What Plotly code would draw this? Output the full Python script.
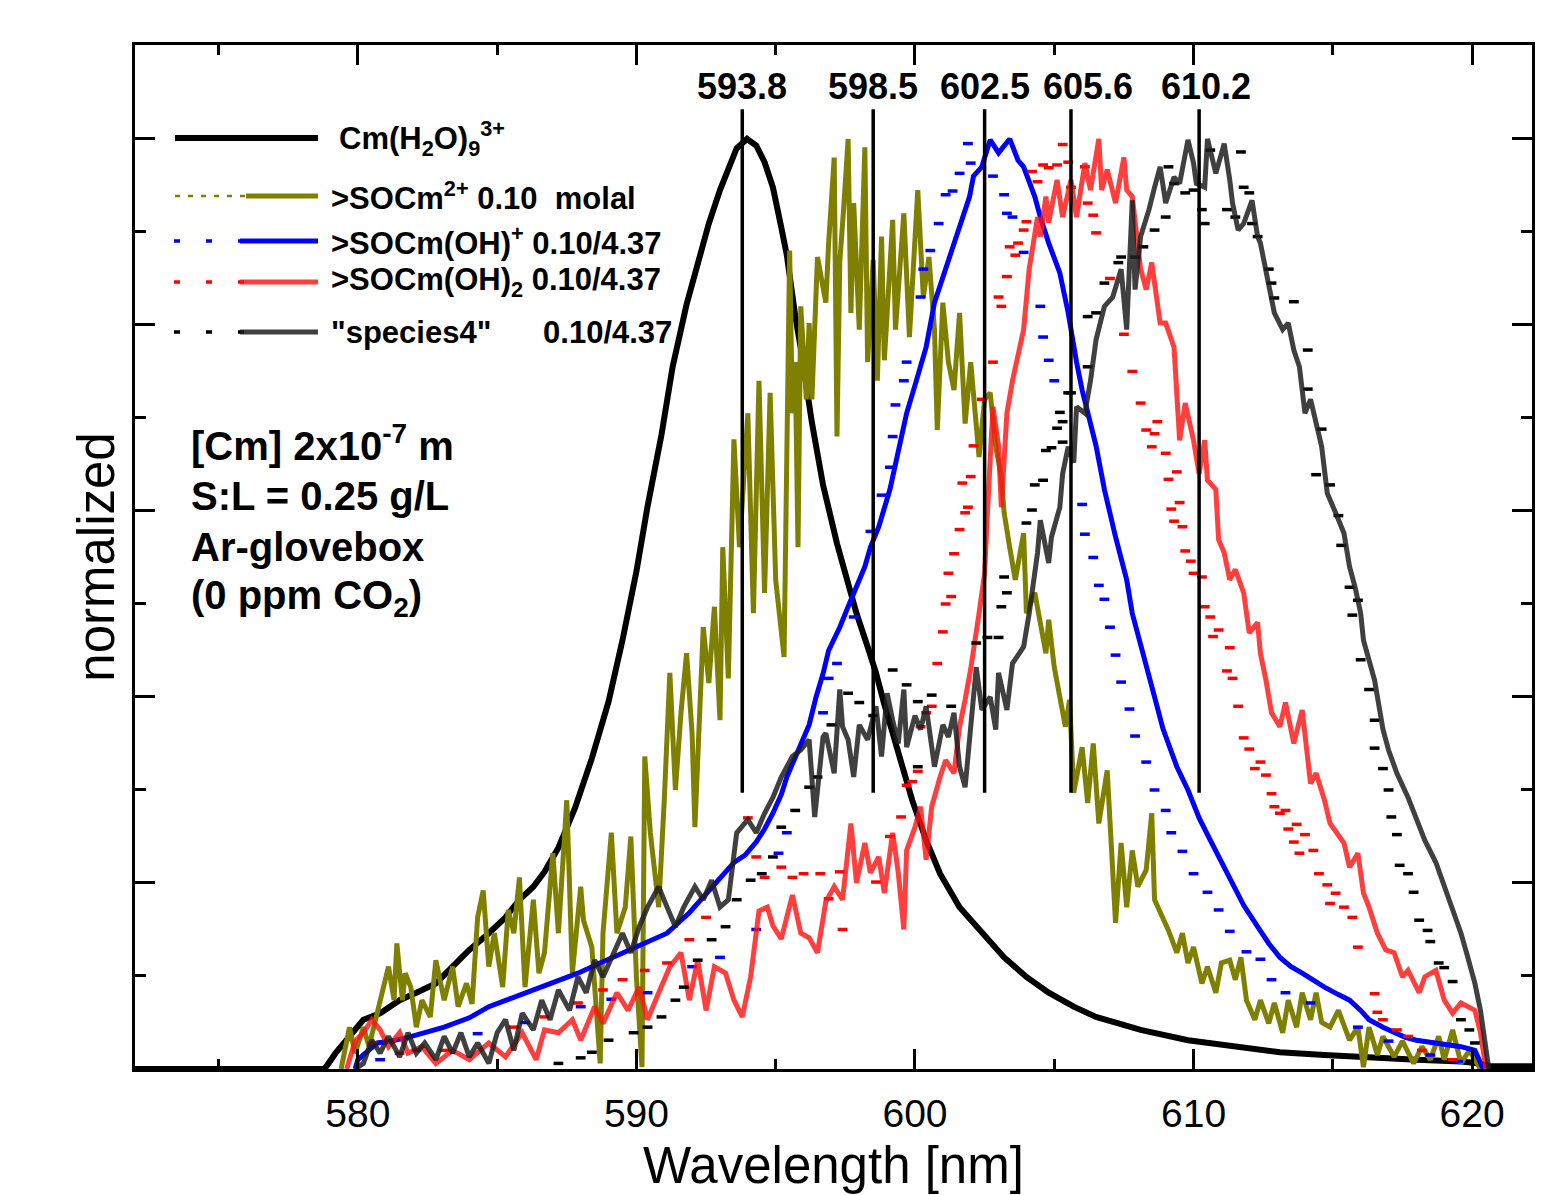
import plotly.graph_objects as go

# ---------------- data ----------------
aquo_wl = [572.0, 578.8, 578.9, 579.2, 579.7, 580.2, 580.8, 581.5, 582.1, 582.8, 583.4, 584.0, 584.7,
           585.3, 585.8, 586.3, 586.7, 587.2, 587.8, 588.4, 589.0, 589.5, 590.0, 590.4, 590.9,
           591.3, 591.8, 592.2, 592.6, 593.0, 593.3, 593.6, 593.97, 594.3, 594.6, 594.9, 595.2,
           595.4, 595.7, 595.9, 596.3, 596.7, 597.2, 597.6, 597.9, 598.3, 598.6, 598.9, 599.4,
           599.9, 600.4, 600.9, 601.6, 602.4, 603.2, 604.0, 604.8, 605.7, 606.5, 607.3, 608.1,
           609.8, 611.4, 613.1, 614.7, 616.3, 618.0, 619.6, 620.3, 620.6, 622.2]
aquo_val = [0.0, 0.0, 0.004, 0.017, 0.035, 0.053, 0.06, 0.074, 0.082, 0.092, 0.11, 0.128, 0.146,
            0.163, 0.182, 0.196, 0.212, 0.238, 0.281, 0.334, 0.395, 0.461, 0.535, 0.605, 0.682,
            0.755, 0.822, 0.865, 0.909, 0.945, 0.969, 0.99, 1.0, 0.993, 0.975, 0.948, 0.905,
            0.875, 0.81, 0.775, 0.695, 0.628, 0.565, 0.522, 0.49, 0.454, 0.426, 0.392, 0.343,
            0.289, 0.246, 0.21, 0.174, 0.146, 0.12, 0.099, 0.082, 0.067, 0.056, 0.049, 0.042,
            0.031, 0.024, 0.018, 0.015, 0.012, 0.01, 0.008, 0.006, 0.003, 0.003]

olive_wl = [579.4, 579.7, 579.9, 580.2, 580.4, 580.7, 581.1, 581.3, 581.4, 581.6, 581.7, 581.9, 582.1,
            582.3, 582.6, 582.8, 583.1, 583.4, 583.6, 583.9, 584.1, 584.3, 584.5, 584.7, 584.9,
            585.2, 585.4, 585.6, 585.8, 586.0, 586.3, 586.5, 586.7, 587.0, 587.2, 587.5, 587.7,
            588.0, 588.1, 588.4, 588.7, 588.8, 589.1, 589.3, 589.6, 589.8, 590.0, 590.2, 590.3,
            590.5, 590.8, 591.0, 591.2, 591.4, 591.6, 591.8, 592.0, 592.1, 592.4, 592.6, 592.8,
            593.0, 593.1, 593.3, 593.5, 593.7, 594.0, 594.2, 594.4, 594.6, 594.8, 595.0, 595.3,
            595.5, 595.6, 595.7, 595.8, 595.9, 596.1, 596.2, 596.3, 596.5, 596.8, 596.9, 597.1,
            597.2, 597.3, 597.45, 597.6, 597.7, 597.8, 598.0, 598.2, 598.3, 598.5, 598.65, 598.8,
            598.9, 599.2, 599.3, 599.6, 599.8, 600.1, 600.3, 600.5, 600.7, 600.8, 601.0, 601.2,
            601.4, 601.6, 601.8, 602.0, 602.3, 602.5, 602.7, 602.9, 603.1, 603.2, 603.4, 603.6,
            603.9, 604.0, 604.3, 604.5, 604.7, 604.8, 605.0, 605.2, 605.4, 605.55, 605.7, 606.0,
            606.2, 606.4, 606.6, 606.9, 607.2, 607.4, 607.6, 607.8, 608.0, 608.3, 608.5, 608.6,
            608.9, 609.1, 609.4, 609.6, 609.8, 610.0, 610.3, 610.5, 610.8, 611.0, 611.3, 611.5,
            611.7, 611.9, 612.2, 612.4, 612.7, 612.9, 613.2, 613.4, 613.7, 613.9, 614.2, 614.4,
            614.6, 614.9, 615.2, 615.6, 615.9, 616.1, 616.3, 616.6, 616.8, 617.2, 617.5, 617.9,
            618.2, 618.5, 618.8, 619.0, 619.3, 619.6, 619.9, 620.3]
olive_val = [0.0, 0.045, 0.017, 0.045, 0.024, 0.06, 0.11, 0.074, 0.135, 0.074, 0.103, 0.088, 0.045,
             0.074, 0.056, 0.117, 0.074, 0.11, 0.067, 0.092, 0.07, 0.163, 0.192, 0.11, 0.146,
             0.088, 0.171, 0.146, 0.206, 0.088, 0.182, 0.103, 0.125, 0.232, 0.146, 0.289, 0.103,
             0.196, 0.16, 0.131, 0.006, 0.146, 0.254, 0.146, 0.174, 0.25, 0.099, 0.002, 0.336,
             0.254, 0.174, 0.289, 0.426, 0.30, 0.383, 0.447, 0.36, 0.26, 0.475, 0.415, 0.497,
             0.375, 0.561, 0.42, 0.677, 0.561, 0.705, 0.49, 0.74, 0.512, 0.727, 0.526, 0.443,
             0.88, 0.705, 0.76, 0.561, 0.82, 0.72, 0.802, 0.72, 0.873, 0.824, 0.888, 0.98,
             0.68, 0.867, 0.93, 1.0, 0.813, 0.931, 0.795, 0.991, 0.76, 0.87, 0.74, 0.895,
             0.762, 0.913, 0.795, 0.92, 0.787, 0.945, 0.83, 0.873, 0.795, 0.687, 0.824, 0.76,
             0.73, 0.813, 0.694, 0.76, 0.658, 0.72, 0.727, 0.669, 0.637, 0.598, 0.561, 0.526,
             0.576, 0.49, 0.512, 0.48, 0.447, 0.483, 0.432, 0.4, 0.368, 0.397, 0.297, 0.346,
             0.286, 0.35, 0.264, 0.321, 0.157, 0.243, 0.174, 0.235, 0.196, 0.214, 0.275, 0.182,
             0.163, 0.149, 0.125, 0.146, 0.114, 0.131, 0.092, 0.11, 0.082, 0.114, 0.117, 0.096,
             0.12, 0.074, 0.053, 0.074, 0.049, 0.071, 0.039, 0.074, 0.045, 0.082, 0.053, 0.082,
             0.05, 0.045, 0.063, 0.031, 0.045, 0.002, 0.045, 0.015, 0.035, 0.013, 0.03, 0.006,
             0.024, 0.01, 0.035, 0.01, 0.042, 0.006, 0.02, 0.0]

blue_wl = [579.9, 580.0, 580.7, 581.2, 581.8, 582.5, 583.1, 584.0, 584.7, 585.5, 586.3, 587.1, 587.9,
           588.7, 589.5, 590.3, 591.1, 591.9, 592.7, 593.1, 593.5, 593.9, 594.3, 594.6, 594.9,
           595.2, 595.4, 595.7, 595.9, 596.2, 596.45, 596.7, 596.9, 597.3, 597.6, 597.9, 598.2,
           598.4, 598.7, 599.1, 599.3, 599.7, 600.0, 600.4, 600.7, 601.1, 601.6, 601.96, 602.1,
           602.4, 602.7, 603.0, 603.4, 603.7, 603.9, 604.3, 604.5, 604.8, 605.2, 605.5, 605.8,
           606.0, 606.5, 606.8, 607.2, 607.6, 607.8, 608.2, 608.6, 608.9, 609.4, 609.8, 610.2,
           610.6, 611.0, 611.4, 611.8, 612.3, 612.7, 613.1, 613.5, 613.9, 614.3, 614.7, 615.2,
           615.6, 616.0, 616.3, 616.8, 617.2, 617.6, 618.0, 618.4, 618.8, 619.2, 619.6, 620.1,
           620.3, 620.4]
blue_val = [0.0, 0.01, 0.028, 0.03, 0.034, 0.04, 0.045, 0.055, 0.067, 0.076, 0.085, 0.094, 0.103,
            0.114, 0.125, 0.135, 0.146, 0.168, 0.196, 0.21, 0.222, 0.23, 0.244, 0.258, 0.275,
            0.295, 0.314, 0.335, 0.35, 0.37, 0.4, 0.425, 0.45, 0.475, 0.497, 0.518, 0.54,
            0.561, 0.583, 0.623, 0.652, 0.705, 0.735, 0.776, 0.824, 0.86, 0.902, 0.938, 0.96,
            0.97, 0.999, 0.985, 1.0, 0.977, 0.97, 0.938, 0.916, 0.888, 0.856, 0.813, 0.76,
            0.73, 0.67, 0.623, 0.572, 0.526, 0.49, 0.447, 0.4, 0.366, 0.325, 0.3, 0.27,
            0.246, 0.222, 0.2, 0.176, 0.153, 0.135, 0.12, 0.11, 0.103, 0.095, 0.088, 0.08,
            0.074, 0.063, 0.053, 0.045, 0.039, 0.034, 0.031, 0.029, 0.028, 0.026, 0.024, 0.02,
            0.008, 0.0]

blue_dot_wl = [580.8, 582.1, 584.3, 586.0, 588.0, 589.1, 590.4, 592.0, 593.0, 594.3, 595.1, 595.4,
               596.7, 596.9, 597.2, 597.8, 598.4, 598.8, 599.1, 599.2, 599.3, 599.6, 599.7, 600.2,
               600.3, 600.55, 600.85, 601.1, 601.35, 601.6, 601.9, 602.0, 602.8, 603.2, 603.3,
               603.5, 603.9, 604.5, 604.6, 604.8, 605.0, 606.0, 606.1, 606.4, 606.6, 606.8, 607.0,
               607.2, 607.4, 607.7, 607.9, 608.3, 608.6, 609.0, 609.2, 609.6, 610.0, 610.5, 610.9,
               611.3, 611.9, 612.4, 612.8, 613.3, 614.2, 615.9, 617.0, 618.5, 619.5]
blue_dot_val = [0.01, 0.02, 0.038, 0.05, 0.067, 0.075, 0.082, 0.11, 0.12, 0.15, 0.232, 0.254,
                0.383, 0.42, 0.436, 0.486, 0.578, 0.617, 0.647, 0.68, 0.714, 0.74, 0.76, 0.83,
                0.86, 0.88, 0.909, 0.94, 0.944, 0.963, 0.995, 0.974, 0.96, 0.94, 0.92,
                0.916, 0.878, 0.82, 0.787, 0.762, 0.74, 0.607, 0.575, 0.55, 0.52, 0.505, 0.475,
                0.445, 0.416, 0.387, 0.358, 0.33, 0.3, 0.278, 0.254, 0.234, 0.21, 0.19, 0.171,
                0.148, 0.126, 0.118, 0.096, 0.082, 0.071, 0.045, 0.03, 0.015, 0.008]

red_wl = [579.6, 579.9, 580.2, 580.5, 580.8, 581.1, 581.5, 581.8, 582.3, 582.8, 583.4, 584.0, 584.7,
          585.3, 585.9, 586.4, 586.7, 587.2, 587.7, 588.0, 588.5, 588.8, 589.3, 589.7, 590.1,
          590.4, 590.8, 591.2, 591.6, 591.9, 592.2, 592.5, 592.8, 593.2, 593.5, 593.8, 594.1,
          594.4, 594.7, 594.9, 595.2, 595.6, 595.9, 596.2, 596.5, 596.8, 597.1, 597.4, 597.7,
          597.9, 598.2, 598.4, 598.7, 598.9, 599.2, 599.4, 599.6, 599.7, 600.0, 600.2, 600.4,
          600.6, 600.9, 601.1, 601.4, 601.6, 601.8, 602.0, 602.3, 602.5, 602.6, 602.8, 603.0,
          603.1, 603.3, 603.5, 603.9, 604.1, 604.4, 604.5, 604.7, 604.8, 605.1, 605.3, 605.6,
          605.8, 606.1, 606.3, 606.6, 606.7, 606.9, 607.2, 607.5, 607.6, 607.8, 608.0, 608.1,
          608.3, 608.5, 608.8, 609.0, 609.3, 609.4, 609.5, 609.7, 610.0, 610.2, 610.4, 610.5,
          610.8, 610.9, 611.1, 611.3, 611.5, 611.8, 612.0, 612.3, 612.4, 612.6, 612.8, 613.1,
          613.3, 613.6, 613.9, 614.2, 614.4, 614.7, 614.9, 615.4, 615.6, 615.9, 616.1, 616.3,
          616.6, 616.9, 617.2, 617.5, 617.7, 618.1, 618.3, 618.7, 619.0, 619.3, 619.6, 620.1,
          620.3, 620.5]
red_val = [0.0, 0.03, 0.039, 0.053, 0.042, 0.024, 0.039, 0.017, 0.024, 0.006, 0.02, 0.01, 0.028,
           0.013, 0.039, 0.01, 0.042, 0.039, 0.053, 0.031, 0.067, 0.049, 0.082, 0.063, 0.088,
           0.053, 0.082, 0.11, 0.125, 0.074, 0.117, 0.063, 0.11, 0.103, 0.074, 0.056, 0.099,
           0.17, 0.174, 0.154, 0.14, 0.187, 0.146, 0.141, 0.125, 0.18, 0.196, 0.182, 0.264,
           0.2, 0.243, 0.211, 0.228, 0.189, 0.254, 0.211, 0.15, 0.235, 0.26, 0.282, 0.225,
           0.282, 0.314, 0.332, 0.318, 0.368, 0.397, 0.43, 0.49, 0.533, 0.598, 0.712, 0.67,
           0.604, 0.705, 0.74, 0.795, 0.86, 0.916, 0.895, 0.938, 0.91, 0.956, 0.916, 0.956,
           0.916, 0.974, 0.945, 1.0, 0.945, 0.967, 0.931, 0.98, 0.945, 0.938, 0.88, 0.86,
           0.838, 0.867, 0.802, 0.802, 0.776, 0.72, 0.676, 0.716, 0.676, 0.64, 0.676, 0.633,
           0.623, 0.569, 0.555, 0.526, 0.537, 0.512, 0.469, 0.48, 0.447, 0.418, 0.383, 0.368,
           0.394, 0.35, 0.386, 0.307, 0.318, 0.289, 0.264, 0.243, 0.217, 0.232, 0.189, 0.174,
           0.146, 0.128, 0.125, 0.099, 0.106, 0.082, 0.099, 0.106, 0.074, 0.06, 0.071, 0.063,
           0.039, 0.0]

red_dot_wl = [580.5, 581.5, 583.1, 585.6, 586.7, 587.9, 588.8, 589.5, 590.3, 591.1, 591.9, 592.5,
              594.0, 594.3, 594.6, 595.2, 595.6, 596.0, 596.6, 596.9, 597.3, 597.4, 598.6, 599.1,
              599.5, 599.7, 599.9, 600.1, 600.2, 600.4, 600.6, 600.8, 601.0, 601.1, 601.2, 601.3,
              601.4, 601.6, 601.7, 601.8, 601.9, 602.0, 602.1, 602.4, 602.8, 603.0, 603.1, 603.3,
              603.4, 603.6, 603.7, 603.9, 604.0, 604.2, 604.4, 604.6, 604.8, 605.1, 605.3, 605.5,
              605.6, 606.1, 606.2, 606.4, 606.5, 607.0, 607.5, 607.8, 608.1, 608.3, 608.5, 608.6,
              608.7, 609.0, 609.1, 609.2, 609.3, 609.4, 609.5, 609.6, 609.7, 609.9, 610.0, 610.3,
              610.4, 610.6, 610.7, 610.9, 611.2, 611.3, 611.4, 611.6, 611.8, 612.0, 612.2, 612.4,
              612.6, 612.8, 612.9, 613.1, 613.3, 613.4, 613.6, 613.7, 613.8, 614.0, 614.3, 614.5,
              614.8, 614.9, 615.1, 615.4, 615.7, 615.9, 616.5, 616.6, 616.8, 617.3, 617.7, 618.2,
              619.3]
red_dot_val = [0.028, 0.017, 0.02, 0.045, 0.056, 0.071, 0.085, 0.096, 0.106, 0.114, 0.139, 0.163,
               0.27, 0.228, 0.206, 0.217, 0.206, 0.21, 0.21, 0.183, 0.212, 0.15, 0.201, 0.25,
               0.271, 0.305, 0.309, 0.32, 0.368, 0.383, 0.39, 0.436, 0.47, 0.5, 0.533, 0.508,
               0.554, 0.58, 0.63, 0.598, 0.604, 0.637, 0.67, 0.72, 0.76, 0.83, 0.82, 0.852,
               0.884, 0.875, 0.888, 0.902, 0.911, 0.965, 0.954, 0.972, 0.969, 0.972, 0.994, 0.975,
               0.948, 0.97, 0.931, 0.918, 0.899, 0.85, 0.79, 0.75, 0.716, 0.687, 0.669, 0.683,
               0.696, 0.662, 0.634, 0.602, 0.589, 0.642, 0.609, 0.583, 0.557, 0.546, 0.533, 0.529,
               0.497, 0.486, 0.465, 0.472, 0.428, 0.453, 0.42, 0.39, 0.356, 0.344, 0.323, 0.33,
               0.316, 0.296, 0.282, 0.275, 0.278, 0.258, 0.244, 0.263, 0.232, 0.252, 0.235, 0.21,
               0.198, 0.178, 0.189, 0.174, 0.163, 0.131, 0.081, 0.061, 0.053, 0.042, 0.035, 0.02,
               0.01]

grey_wl = [579.9, 580.2, 580.5, 580.8, 581.1, 581.5, 581.8, 582.1, 582.4, 582.8, 583.1, 583.4, 583.7,
           584.0, 584.3, 584.7, 585.0, 585.3, 585.6, 585.9, 586.3, 586.6, 586.9, 587.2, 587.6,
           587.9, 588.2, 588.5, 588.8, 589.1, 589.5, 589.8, 590.1, 590.4, 590.8, 591.1, 591.4,
           591.7, 592.1, 592.4, 592.7, 593.0, 593.3, 593.6, 594.0, 594.3, 594.6, 594.9, 595.2,
           595.6, 595.9, 596.2, 596.4, 596.7, 596.8, 597.1, 597.3, 597.4, 597.6, 597.8, 598.0,
           598.3, 598.6, 598.8, 599.0, 599.2, 599.4, 599.6, 599.7, 600.0, 600.2, 600.4, 600.7,
           601.0, 601.2, 601.4, 601.6, 601.8, 602.0, 602.2, 602.4, 602.7, 602.9, 603.0, 603.3,
           603.5, 603.9, 604.1, 604.4, 604.5, 604.8, 604.9, 605.2, 605.3, 605.5, 605.7, 605.8,
           606.1, 606.3, 606.5, 606.8, 607.1, 607.4, 607.6, 607.8, 607.9, 608.1, 608.4, 608.6,
           608.8, 609.0, 609.3, 609.5, 609.8, 610.0, 610.1, 610.4, 610.5, 610.8, 611.1, 611.3,
           611.4, 611.6, 611.8, 612.1, 612.3, 612.4, 612.7, 612.9, 613.2, 613.4, 613.6, 613.8,
           614.0, 614.2, 614.6, 614.8, 615.1, 615.4, 615.6, 615.8, 616.0, 616.1, 616.5, 616.6,
           616.8, 617.0, 617.3, 617.7, 618.0, 618.3, 618.7, 619.0, 619.3, 619.6, 619.8, 620.1,
           620.3, 620.5, 620.6]
grey_val = [0.0, 0.006, 0.031, 0.017, 0.035, 0.013, 0.039, 0.017, 0.028, 0.01, 0.035, 0.017, 0.039,
            0.013, 0.028, 0.006, 0.039, 0.053, 0.02, 0.06, 0.042, 0.074, 0.053, 0.085, 0.063,
            0.099, 0.082, 0.117, 0.099, 0.12, 0.146, 0.125, 0.153, 0.174, 0.196, 0.174, 0.153,
            0.174, 0.196, 0.182, 0.203, 0.174, 0.182, 0.254, 0.268, 0.254, 0.275, 0.292, 0.314,
            0.336, 0.343, 0.354, 0.271, 0.357, 0.361, 0.318, 0.408, 0.368, 0.354, 0.314, 0.37,
            0.354, 0.39, 0.336, 0.404, 0.375, 0.35, 0.408, 0.346, 0.38, 0.365, 0.39, 0.325,
            0.37, 0.357, 0.383, 0.325, 0.303, 0.375, 0.432, 0.386, 0.4, 0.365, 0.426, 0.386,
            0.436, 0.454, 0.49, 0.555, 0.59, 0.544, 0.572, 0.604, 0.64, 0.669, 0.652, 0.712,
            0.705, 0.74, 0.784, 0.82, 0.83, 0.86, 0.795, 0.934, 0.838, 0.895, 0.924, 0.948,
            0.97, 0.931, 0.959, 0.952, 0.999, 0.974, 0.952, 0.948, 1.0, 0.963, 0.995, 0.956,
            0.931, 0.902, 0.909, 0.934, 0.895, 0.888, 0.845, 0.813, 0.795, 0.802, 0.773, 0.755,
            0.705, 0.72, 0.669, 0.619, 0.598, 0.576, 0.54, 0.518, 0.49, 0.461, 0.418, 0.4,
            0.365, 0.343, 0.318, 0.292, 0.268, 0.246, 0.222, 0.196, 0.174, 0.146, 0.125, 0.092,
            0.063, 0.02, 0.0]

black_dot_wl = [587.2, 588.0, 588.4, 589.0, 589.9, 590.4, 590.9, 591.4, 591.7, 592.2, 592.7, 593.2,
                593.6, 594.1, 594.5, 594.9, 595.2, 595.7, 596.2, 596.5, 597.0, 597.6, 598.0, 598.5,
                599.2, 599.7, 600.1, 600.1, 600.6, 601.3, 602.2, 602.6, 603.0, 603.1, 603.2, 603.3,
                604.0, 604.2, 604.3, 604.6, 604.7, 604.9, 605.1, 605.2, 605.3, 605.3, 605.5, 605.6,
                606.2, 606.2, 606.5, 606.8, 607.3, 607.4, 607.9, 608.2, 608.6, 609.0, 609.1, 609.3,
                609.7, 610.0, 610.3, 610.4, 610.6, 611.2, 611.5, 611.7, 611.8, 612.0, 612.1, 612.3,
                612.7, 612.8, 612.9, 613.6, 614.1, 614.1, 614.4, 614.6, 614.9, 615.2, 615.3, 615.6,
                615.7, 615.9, 616.0, 616.3, 616.5, 616.5, 616.8, 617.0, 617.1, 617.3, 617.4, 617.7,
                617.9, 618.1, 618.4, 618.5, 618.8, 619.0, 619.3, 619.6, 619.9, 620.1]
black_dot_val = [0.006, 0.012, 0.018, 0.031, 0.039, 0.045, 0.056, 0.074, 0.088, 0.117, 0.139, 0.153,
                 0.182, 0.203, 0.21, 0.228, 0.26, 0.278, 0.303, 0.314, 0.37, 0.404, 0.394, 0.38,
                 0.429, 0.413, 0.395, 0.325, 0.402, 0.39, 0.458, 0.464, 0.464, 0.497, 0.529, 0.512,
                 0.587, 0.601, 0.628, 0.633, 0.665, 0.668, 0.689, 0.706, 0.674, 0.696, 0.727, 0.727,
                 0.755, 0.809, 0.813, 0.845, 0.867, 0.873, 0.873, 0.884, 0.902, 0.916, 0.97, 0.952,
                 0.942, 0.945, 0.924, 0.909, 0.988, 0.924, 0.916, 0.986, 0.948, 0.942, 0.909, 0.895,
                 0.86, 0.845, 0.829, 0.825, 0.773, 0.731, 0.639, 0.688, 0.628, 0.595, 0.563, 0.518,
                 0.488, 0.504, 0.44, 0.408, 0.375, 0.345, 0.323, 0.3, 0.271, 0.252, 0.219, 0.21,
                 0.19, 0.16, 0.149, 0.137, 0.114, 0.109, 0.094, 0.053, 0.042, 0.028]

peak_values = [593.8, 598.5, 602.5, 605.6, 610.2]
peak_labels = ["593.8", "598.5", "602.5", "605.6", "610.2"]
peak_line_bottom = 0.297
peak_line_top = 1.032

x_ticks = [580, 590, 600, 610, 620]
y_ticks = [0.0, 0.2, 0.4, 0.6, 0.8, 1.0]

legend_entries = ["Cm(H<sub>2</sub>O)<sub>9</sub><sup>3+</sup>",
                  ">SOCm<sup>2+</sup> 0.10\u00a0\u00a0molal",
                  ">SOCm(OH)<sup>+</sup> 0.10/4.37",
                  ">SOCm(OH)<sub>2</sub> 0.10/4.37",
                  "\"species4\"\u00a0\u00a0\u00a0\u00a0\u00a0 0.10/4.37"]
info_lines = ["[Cm] 2x10<sup>-7</sup> m", "S:L = 0.25 g/L", "Ar-glovebox", "(0 ppm CO<sub>2</sub>)"]

# ---------------- styling ----------------
FONT = "Liberation Sans, Arial, Helvetica, sans-serif"
OLIVE = "#808000"
BLUE = "#0000ff"
RED = "rgba(255,20,20,0.82)"
RED_DOT = "#ff0000"
GREY = "rgba(30,30,30,0.85)"

# the page body adds an 8px offset; the figure is sized so the plot frame lands
# at the same screen pixels as the reference
W, H = 1541, 1187
L, R, T, B = 127, 17, 37, 126
PW, PH = W - L - R, H - T - B
OFF = 8


def px_x(px):
    return (px - OFF - L) / PW


def px_y(py):
    return (H - B - (py - OFF)) / PH


fig = go.Figure()

fig.add_trace(go.Scatter(x=aquo_wl, y=aquo_val, mode="lines",
                         line=dict(color="black", width=6), showlegend=False))
fig.add_trace(go.Scatter(x=olive_wl, y=olive_val, mode="lines",
                         line=dict(color=OLIVE, width=5), showlegend=False))
fig.add_trace(go.Scatter(x=blue_dot_wl, y=blue_dot_val, mode="markers",
                         marker=dict(symbol="line-ew", size=7, line=dict(color=BLUE, width=3.5)),
                         showlegend=False))
fig.add_trace(go.Scatter(x=blue_wl, y=blue_val, mode="lines",
                         line=dict(color=BLUE, width=5), showlegend=False))
fig.add_trace(go.Scatter(x=red_dot_wl, y=red_dot_val, mode="markers",
                         marker=dict(symbol="line-ew", size=7, line=dict(color=RED_DOT, width=3.5)),
                         showlegend=False))
fig.add_trace(go.Scatter(x=red_wl, y=red_val, mode="lines",
                         line=dict(color=RED, width=5), showlegend=False))
fig.add_trace(go.Scatter(x=black_dot_wl, y=black_dot_val, mode="markers",
                         marker=dict(symbol="line-ew", size=7, line=dict(color="black", width=3.5)),
                         showlegend=False))
fig.add_trace(go.Scatter(x=grey_wl, y=grey_val, mode="lines",
                         line=dict(color=GREY, width=5), showlegend=False))

# vertical peak marker lines
vx, vy = [], []
for p in peak_values:
    vx += [p, p, None]
    vy += [peak_line_bottom, peak_line_top, None]
fig.add_trace(go.Scatter(x=vx, y=vy, mode="lines", line=dict(color="black", width=3.5),
                         showlegend=False))

label_shift = [0, 0, 0, 17, 7]
for p, lab, sh in zip(peak_values, peak_labels, label_shift):
    fig.add_annotation(x=p, y=1.056, xref="x", yref="y", text="<b>%s</b>" % lab,
                       showarrow=False, xshift=sh, xanchor="center", yanchor="middle",
                       font=dict(family=FONT, size=36, color="black"))

# ---------------- manual legend ----------------
leg_y = [138, 196, 241, 282, 332]
leg_text_x = [337, 329, 329, 329, 329]
shapes = []
shapes.append(dict(type="line", xref="paper", yref="paper", x0=px_x(175), x1=px_x(318),
                   y0=px_y(leg_y[0]), y1=px_y(leg_y[0]), line=dict(color="black", width=6)))
shapes.append(dict(type="line", xref="paper", yref="paper", x0=px_x(175), x1=px_x(246),
                   y0=px_y(leg_y[1]), y1=px_y(leg_y[1]),
                   line=dict(color=OLIVE, width=2.5, dash="5px,8px")))
shapes.append(dict(type="line", xref="paper", yref="paper", x0=px_x(246), x1=px_x(318),
                   y0=px_y(leg_y[1]), y1=px_y(leg_y[1]), line=dict(color=OLIVE, width=5)))
for yy, dcol, scol in [(leg_y[2], BLUE, BLUE), (leg_y[3], RED_DOT, RED), (leg_y[4], "black", GREY)]:
    shapes.append(dict(type="line", xref="paper", yref="paper", x0=px_x(174), x1=px_x(244),
                       y0=px_y(yy), y1=px_y(yy), line=dict(color=dcol, width=3.5, dash="6px,26px")))
    shapes.append(dict(type="line", xref="paper", yref="paper", x0=px_x(240), x1=px_x(318),
                       y0=px_y(yy), y1=px_y(yy), line=dict(color=scol, width=5)))
fig.update_layout(shapes=shapes)

for txt, yy, xx in zip(legend_entries, leg_y, leg_text_x):
    fig.add_annotation(x=px_x(xx), y=px_y(yy), xref="paper", yref="paper",
                       text="<b>%s</b>" % txt, showarrow=False, xanchor="left", yanchor="middle",
                       font=dict(family=FONT, size=31, color="black"))

info_y = [443, 496, 547, 598]
for txt, yy in zip(info_lines, info_y):
    fig.add_annotation(x=px_x(189), y=px_y(yy), xref="paper", yref="paper",
                       text="<b>%s</b>" % txt, showarrow=False, xanchor="left", yanchor="middle",
                       font=dict(family=FONT, size=40, color="black"))

fig.update_layout(
    width=W, height=H,
    margin=dict(l=L, r=R, t=T, b=B, autoexpand=False),
    plot_bgcolor="white", paper_bgcolor="white",
    font=dict(family=FONT, color="black"),
    showlegend=False,
)
fig.update_xaxes(
    range=[572.0, 622.15], tickvals=x_ticks, ticktext=[str(v) for v in x_ticks],
    ticks="inside", ticklen=20, tickwidth=3, tickcolor="black",
    minor=dict(ticks="inside", ticklen=10, tickwidth=3, dtick=5, tick0=575, tickcolor="black"),
    showline=True, linewidth=3, linecolor="black", mirror="ticks",
    showgrid=False, zeroline=False,
    tickfont=dict(family=FONT, size=39, color="black"), ticklabelstandoff=8,
    title=dict(text="Wavelength [nm]", font=dict(family=FONT, size=51, color="black"), standoff=14),
    automargin=False,
)
fig.update_yaxes(
    range=[0, 1.101], tickvals=y_ticks, showticklabels=False,
    ticks="inside", ticklen=20, tickwidth=3, tickcolor="black",
    minor=dict(ticks="inside", ticklen=11, tickwidth=3, dtick=0.1, tick0=0, tickcolor="black"),
    showline=True, linewidth=3, linecolor="black", mirror="ticks",
    showgrid=False, zeroline=False,
    title=dict(text="normalized", font=dict(family=FONT, size=51, color="black"), standoff=2),
    automargin=False,
)

fig.write_html("out.html")
